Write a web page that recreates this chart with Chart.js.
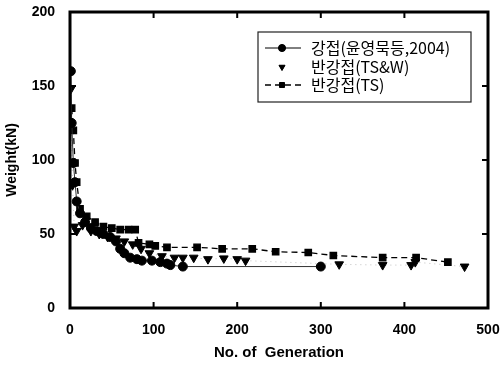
<!DOCTYPE html>
<html>
<head>
<meta charset="utf-8">
<script src="https://cdn.jsdelivr.net/npm/chart.js@4.4.0/dist/chart.umd.min.js"></script>
<style>
html,body{margin:0;padding:0;background:#fff;}
#wrap{width:500px;height:366px;}
</style>
</head>
<body>
<div id="wrap"><canvas id="c" width="500" height="366"></canvas></div>
<script>
// ---- data ----
const rigidX = [1, 2, 4, 6, 8, 12, 18, 25, 32, 40, 48, 55, 60, 65, 72, 80, 86, 98, 108, 116, 120, 135, 300];
const rigidY = [160, 125, 98, 85, 72, 64, 58, 54, 52, 50, 48, 45, 40, 37, 34, 33, 32, 32, 31, 30, 29, 28, 28];

const tswX = [0, 1, 3, 5, 8, 15, 25, 35, 45, 55, 65, 75, 85, 95, 110, 125, 135, 148, 165, 184, 200, 210, 322, 374, 408, 413, 472];
const tswY = [125, 148, 83, 55, 52, 56, 52, 50, 48, 47, 45, 43, 40, 37, 35, 34, 34, 34, 33, 33.5, 33, 32, 29.5, 29, 29, 31, 28];

const tsX = [2, 4, 6, 8, 12, 20, 30, 40, 50, 60, 70, 78, 82, 95, 102, 116, 152, 182, 218, 246, 285, 315, 374, 414, 452];
const tsY = [135, 120, 98, 85, 67, 62, 58, 55, 54, 53, 53, 53, 44, 43, 42, 41, 41, 40, 40, 38, 37.5, 35.5, 34, 34, 31];

const seriesLabels = ['강접(윤영묵등,2004)', '반강접(TS&W)', '반강접(TS)'];
const xTicks = [0, 100, 200, 300, 400, 500];
const yTicks = [0, 50, 100, 150, 200];

const toPts = (xs, ys) => xs.map((x, i) => ({x: x, y: ys[i]}));

const FONT = '"Liberation Sans", Arial, sans-serif';
const KFONT = '"Noto Sans CJK KR", "Liberation Sans", sans-serif';

const framePlugin = {
  id: 'frame',
  afterDraw(chart) {
    const ctx = chart.ctx;
    const a = chart.chartArea;
    const xs = chart.scales.x, ys = chart.scales.y;
    ctx.save();
    ctx.strokeStyle = '#000';
    ctx.lineWidth = 3;
    ctx.strokeRect(a.left, a.top, a.right - a.left, a.bottom - a.top);
    ctx.lineWidth = 2;
    const tl = 6;
    ctx.beginPath();
    xTicks.slice(1, -1).forEach(v => {
      const p = xs.getPixelForValue(v);
      ctx.moveTo(p, a.bottom); ctx.lineTo(p, a.bottom - tl);
      ctx.moveTo(p, a.top); ctx.lineTo(p, a.top + tl);
    });
    yTicks.slice(1, -1).forEach(v => {
      const p = ys.getPixelForValue(v);
      ctx.moveTo(a.left, p); ctx.lineTo(a.left + tl, p);
      ctx.moveTo(a.right, p); ctx.lineTo(a.right - tl, p);
    });
    ctx.stroke();

    // legend box
    const bx = 258, by = 32, bw = 213, bh = 70;
    ctx.fillStyle = '#fff';
    ctx.fillRect(bx, by, bw, bh);
    ctx.lineWidth = 1.2;
    ctx.strokeStyle = '#222';
    ctx.strokeRect(bx, by, bw, bh);
    const rows = [48, 67, 85];
    chart.data.datasets.forEach((ds, i) => {
      const y = rows[i];
      const mx = 282;
      ctx.save();
      if (i !== 1) {
        ctx.strokeStyle = '#000';
        ctx.lineWidth = ds.borderWidth;
        ctx.setLineDash(ds.borderDash || []);
        ctx.beginPath();
        ctx.moveTo(265, y); ctx.lineTo(301, y);
        ctx.stroke();
      }
      ctx.restore();
      ctx.save();
      ctx.fillStyle = '#000';
      ctx.strokeStyle = '#000';
      ctx.setLineDash([]);
      ctx.lineWidth = 1;
      Chart.helpers.drawPoint(ctx, {pointStyle: ds.pointStyle, radius: 3.5, borderWidth: 1, rotation: ds.pointRotation || 0}, mx, y);
      ctx.fill();
      ctx.restore();
      ctx.fillStyle = '#000';
      ctx.font = '16px ' + KFONT;
      ctx.textBaseline = 'middle';
      ctx.textAlign = 'left';
      ctx.fillText(ds.label, 311, y);
    });
    ctx.restore();
  }
};

new Chart(document.getElementById('c'), {
  type: 'scatter',
  data: {
    datasets: [
      {
        label: seriesLabels[0],
        data: toPts(rigidX, rigidY),
        showLine: true,
        borderColor: '#333',
        borderWidth: 1,
        backgroundColor: '#000',
        pointBackgroundColor: '#000',
        pointBorderColor: '#000',
        pointStyle: 'circle',
        pointRadius: 4.5
      },
      {
        label: seriesLabels[1],
        data: toPts(tswX, tswY),
        showLine: true,
        borderColor: 'rgba(0,0,0,0.25)',
        borderWidth: 1,
        borderDash: [1, 4],
        backgroundColor: '#000',
        pointBackgroundColor: '#000',
        pointBorderColor: '#000',
        pointStyle: 'triangle',
        pointRotation: 180,
        pointRadius: 5
      },
      {
        label: seriesLabels[2],
        data: toPts(tsX, tsY),
        showLine: true,
        borderColor: '#000',
        borderWidth: 1.3,
        borderDash: [6, 4],
        backgroundColor: '#000',
        pointBackgroundColor: '#000',
        pointBorderColor: '#000',
        pointStyle: 'rect',
        pointRadius: 4.5
      }
    ]
  },
  options: {
    responsive: false,
    animation: false,
    layout: {padding: {top: 12, right: 12, left: 0, bottom: 0}},
    plugins: {legend: {display: false}, tooltip: {enabled: false}},
    scales: {
      x: {
        type: 'linear', min: 0, max: 500,
        afterBuildTicks: s => { s.ticks = xTicks.map(v => ({value: v})); },
        grid: {display: false},
        border: {display: false},
        ticks: {color: '#000', font: {family: FONT, size: 14, weight: 'bold'}, padding: 6, maxRotation: 0},
        title: {display: true, text: 'No. of  Generation', color: '#000', font: {family: FONT, size: 15, weight: 'bold'}, padding: {top: 9}},
        afterFit: s => { s.height = 58; s.paddingLeft = 0; s.paddingRight = 0; }
      },
      y: {
        type: 'linear', min: 0, max: 200,
        afterBuildTicks: s => { s.ticks = yTicks.map(v => ({value: v})); },
        grid: {display: false},
        border: {display: false},
        ticks: {color: '#000', font: {family: FONT, size: 14, weight: 'bold'}, padding: 7},
        title: {display: true, text: 'Weight(kN)', color: '#000', font: {family: FONT, size: 14, weight: 'bold'}, padding: {bottom: 4}},
        afterFit: s => { s.width = 70; s.paddingTop = 0; s.paddingBottom = 0; }
      }
    }
  },
  plugins: [framePlugin]
});
</script>
</body>
</html>
